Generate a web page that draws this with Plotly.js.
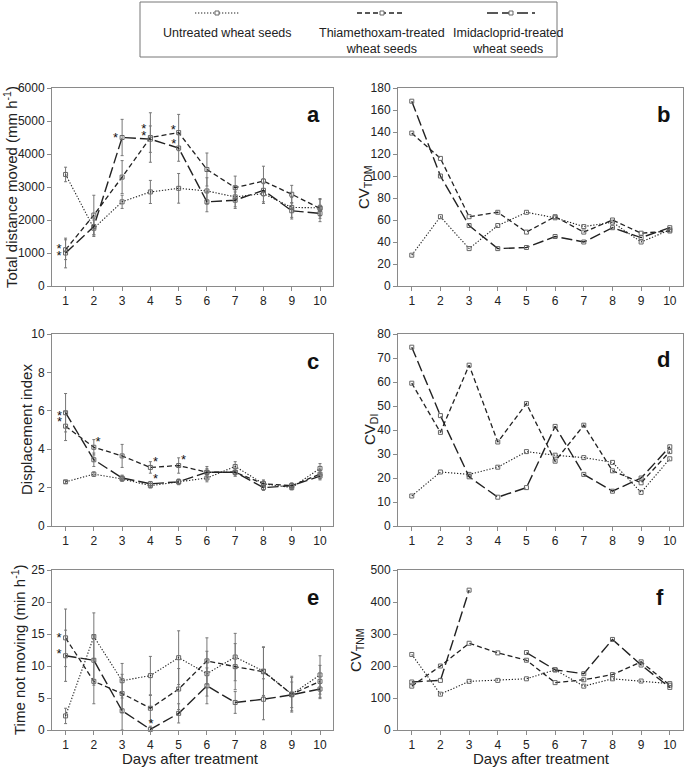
<!DOCTYPE html>
<html>
<head>
<meta charset="utf-8">
<script src="https://cdn.plot.ly/plotly-3.0.1.min.js"></script>
<style>html,body{margin:0;padding:0;background:#fff;}#chart{width:685px;height:767px;}</style>
</head>
<body>
<div id="chart"></div>
<script>
// ---------- DATA ----------
const days = [1,2,3,4,5,6,7,8,9,10];
const seriesNames = ["Untreated wheat seeds", "Thiamethoxam-treated<br>wheat seeds", "Imidacloprid-treated<br>wheat seeds"];

// (a) Total distance moved (mm h-1)
const tdmUntreated = [3380,1750,2550,2850,2960,2880,2700,2800,2380,2370];
const tdmUntreatedErr = [220,250,200,350,450,400,300,300,300,250];
const tdmThia = [1100,2150,3300,4500,4650,3530,2980,3180,2780,2350];
const tdmThiaErr = [300,600,500,750,550,500,350,450,270,300];
const tdmImid = [1000,1800,4500,4450,4180,2550,2600,2900,2280,2200];
const tdmImidErr = [450,250,550,400,400,300,250,350,250,250];
const tdmStarX = [0.77,0.77,2.77,3.77,3.77,4.81,4.83];
const tdmStarY = [1100,900,4470,4720,4510,4690,4280];

// (b) CV of TDM
const cvTdmUntreated = [28,63,34,55,67,62,54,58,40,51];
const cvTdmThia = [139,116,63,67,49,63,49,60,48,50];
const cvTdmImid = [168,100,55,34,35,45,40,53,44,53];

// (c) Displacement index
const diUntreated = [2.3,2.7,2.45,2.1,2.3,2.5,3.1,2.2,2.0,3.0];
const diUntreatedErr = [0.08,0.12,0.12,0.12,0.12,0.2,0.25,0.15,0.12,0.25];
const diThia = [5.2,4.1,3.65,3.05,3.15,2.8,2.8,2.2,2.1,2.7];
const diThiaErr = [0.75,0.4,0.6,0.3,0.4,0.3,0.2,0.2,0.15,0.25];
const diImid = [5.9,3.45,2.5,2.2,2.3,2.8,2.8,2.0,2.1,2.6];
const diImidErr = [1.0,0.35,0.15,0.12,0.15,0.2,0.2,0.15,0.12,0.2];
const diStarX = [0.79,0.79,2.15,4.18,4.18,5.17];
const diStarY = [5.7,5.4,4.36,3.27,2.4,3.39];

// (d) CV of DI
const cvDiUntreated = [12.5,22.5,21.5,24.5,31,29.5,28.5,26.5,14,28];
const cvDiThia = [59.5,39,67,35,51,27,42,23,18,31];
const cvDiImid = [74.5,46,20.5,12,16,41.5,21.5,14.5,20,33];

// (e) Time not moving (min h-1)
const tnmUntreated = [2.2,14.6,7.7,8.5,11.3,8.8,11.4,9.2,5.6,8.6];
const tnmUntreatedErr = [1.2,3.7,2.7,3.0,4.2,3.5,3.7,3.8,2.6,3.0];
const tnmThia = [14.4,7.6,5.7,3.4,6.4,10.8,9.9,9.1,5.6,7.6];
const tnmThiaErr = [4.5,3.5,3.0,2.0,3.2,3.6,3.6,3.8,2.8,2.5];
const tnmImid = [11.6,10.9,3.0,0.1,2.6,6.9,4.3,4.8,5.5,6.4];
const tnmImidErr = [4.0,3.9,3.0,0.5,1.5,2.8,1.7,3.2,2.0,1.5];
const tnmStarX = [0.77,0.77,4.02];
const tnmStarY = [14.2,11.8,0.75];

// (f) CV of TNM (imidacloprid undefined on day 4)
const cvTnmUntreated = [236,112,152,155,160,188,137,160,153,145];
const cvTnmThia = [137,200,271,241,218,148,157,173,213,140];
const cvTnmImid = [150,155,437,null,242,188,176,283,203,133];

// ---------- STYLE ----------
const FONT = "Liberation Sans, Arial, sans-serif";
const styles = [
  {dash: "1.3px,1.7px", width: 1.1},
  {dash: "5px,3px", width: 1.3},
  {dash: "11px,4px", width: 1.4}
];
const lineColor = "#222";
const markerSpec = {symbol: "square-open", size: 4, color: "#666", line: {width: 1, color: "#666"}};

const traces = [];
function addSeries(xa, ya, ys, errs) {
  ys.forEach((y, i) => {
    const t = {
      x: days, y: y, xaxis: xa, yaxis: ya, type: "scatter", mode: "lines+markers",
      line: {color: lineColor, dash: styles[i].dash, width: styles[i].width},
      marker: markerSpec, showlegend: false, connectgaps: false, cliponaxis: false,
      name: seriesNames[i], hoverinfo: "x+y"
    };
    if (errs) {
      t.error_y = {type: "data", array: errs[i], visible: true, color: "#777", thickness: 1, width: 1.5};
    }
    traces.push(t);
  });
}
function addStars(xa, ya, xs, ysv) {
  traces.push({x: xs, y: ysv, xaxis: xa, yaxis: ya, type: "scatter", mode: "text",
    text: xs.map(() => "*"), textposition: "middle center",
    textfont: {family: FONT, size: 13, color: "#111"}, showlegend: false, hoverinfo: "skip", cliponaxis: false});
}

addSeries("x", "y", [tdmUntreated, tdmThia, tdmImid], [tdmUntreatedErr, tdmThiaErr, tdmImidErr]);
addStars("x", "y", tdmStarX, tdmStarY);
addSeries("x2", "y2", [cvTdmUntreated, cvTdmThia, cvTdmImid]);
addSeries("x3", "y3", [diUntreated, diThia, diImid], [diUntreatedErr, diThiaErr, diImidErr]);
addStars("x3", "y3", diStarX, diStarY);
addSeries("x4", "y4", [cvDiUntreated, cvDiThia, cvDiImid]);
addSeries("x5", "y5", [tnmUntreated, tnmThia, tnmImid], [tnmUntreatedErr, tnmThiaErr, tnmImidErr]);
addStars("x5", "y5", tnmStarX, tnmStarY);
addSeries("x6", "y6", [cvTnmUntreated, cvTnmThia, cvTnmImid]);

// ---------- LAYOUT ----------
const W = 685, H = 767;
const px = v => v / W, py = v => 1 - v / H;
const colL = [px(52), px(333)], colR = [px(398), px(683)];
const row1 = [py(286), py(88)], row2 = [py(526), py(334)], row3 = [py(730), py(570)];

function xax(dom, anchor) {
  return {domain: dom, anchor: anchor, range: [0.52, 10.46], tickvals: days, ticktext: days.map(String),
    showline: true, mirror: true, linecolor: "#8a8a8a", linewidth: 1, ticks: "outside", ticklen: 4,
    tickcolor: "#8a8a8a", showgrid: false, zeroline: false, tickfont: {family: FONT, size: 12, color: "#222"}};
}
function yax(dom, anchor, range, dtick) {
  return {domain: dom, anchor: anchor, range: range, dtick: dtick, tick0: 0,
    showline: true, mirror: true, linecolor: "#8a8a8a", linewidth: 1, ticks: "outside", ticklen: 4,
    tickcolor: "#8a8a8a", showgrid: false, zeroline: false, tickfont: {family: FONT, size: 12, color: "#222"}};
}

const ann = [];
function ytitle(text, x, dom) {
  ann.push({text: text, xref: "paper", yref: "paper", x: px(x), y: (dom[0] + dom[1]) / 2, textangle: -90,
    showarrow: false, xanchor: "center", yanchor: "middle", font: {family: FONT, size: 15, color: "#222"}});
}
function letter(text, x, y) {
  ann.push({text: "<b>" + text + "</b>", xref: "paper", yref: "paper", x: px(x), y: py(y), showarrow: false,
    xanchor: "center", yanchor: "middle", font: {family: FONT, size: 22, color: "#111"}});
}
ytitle("Total distance moved (mm h<sup>-1</sup>)", 10, row1);
ytitle("CV<sub>TDM</sub>", 364, row1);
ytitle("Displacement index", 26, row2);
ytitle("CV<sub>DI</sub>", 370, row2);
ytitle("Time not moving (min h<sup>-1</sup>)", 18, row3);
ytitle("CV<sub>TNM</sub>", 356, row3);
letter("a", 313, 114); letter("b", 663, 114);
letter("c", 313, 361); letter("d", 663, 359);
letter("e", 313, 597); letter("f", 660, 597);
[[190], [541]].forEach(([x]) => ann.push({text: "Days after treatment", xref: "paper", yref: "paper",
  x: px(x), y: py(758), showarrow: false, xanchor: "center", yanchor: "middle",
  font: {family: FONT, size: 15, color: "#222"}}));

// legend (drawn as shapes + text)
const shapes = [{type: "rect", xref: "paper", yref: "paper", x0: px(140), x1: px(557), y0: py(57), y1: py(2),
  line: {color: "#777", width: 1}, fillcolor: "rgba(0,0,0,0)"}];
const legendSamples = [[195, 240, 217, 227], [357, 405, 382, 382], [487, 535, 511, 508]];
legendSamples.forEach((s, i) => {
  shapes.push({type: "line", xref: "paper", yref: "paper", x0: px(s[0]), x1: px(s[1]), y0: py(13), y1: py(13),
    line: {color: lineColor, width: styles[i].width, dash: styles[i].dash}});
  shapes.push({type: "rect", xref: "paper", yref: "paper", x0: px(s[2] - 2), x1: px(s[2] + 2), y0: py(15), y1: py(11),
    line: {color: "#666", width: 1}, fillcolor: "#fff"});
  ann.push({text: seriesNames[i], xref: "paper", yref: "paper", x: px(s[3]), y: py(24), showarrow: false,
    xanchor: "center", yanchor: "top", align: "center", font: {family: FONT, size: 12.5, color: "#222"}});
});

const layout = {
  width: W, height: H, margin: {l: 0, r: 0, t: 0, b: 0}, paper_bgcolor: "#fff", plot_bgcolor: "#fff",
  showlegend: false, font: {family: FONT},
  xaxis: xax(colL, "y"), yaxis: yax(row1, "x", [0, 6000], 1000),
  xaxis2: xax(colR, "y2"), yaxis2: yax(row1, "x2", [0, 180], 20),
  xaxis3: xax(colL, "y3"), yaxis3: yax(row2, "x3", [0, 10], 2),
  xaxis4: xax(colR, "y4"), yaxis4: yax(row2, "x4", [0, 80], 10),
  xaxis5: xax(colL, "y5"), yaxis5: yax(row3, "x5", [0, 25], 5),
  xaxis6: xax(colR, "y6"), yaxis6: yax(row3, "x6", [0, 500], 100),
  annotations: ann, shapes: shapes
};
Plotly.newPlot("chart", traces, layout, {staticPlot: true, displayModeBar: false});
</script>
</body>
</html>
